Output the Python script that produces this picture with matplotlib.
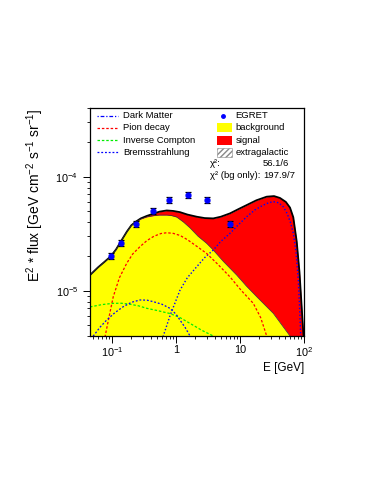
import numpy as np
import matplotlib
matplotlib.use("Agg")
import matplotlib.pyplot as plt
from matplotlib.patches import Rectangle

plt.rcParams['font.family'] = ['Liberation Sans', 'DejaVu Sans']
plt.rcParams['mathtext.fontset'] = 'custom'
plt.rcParams['mathtext.rm'] = 'Liberation Sans'
plt.rcParams['mathtext.it'] = 'Liberation Sans:italic'

# EGRET data points
egret_e = [0.095, 0.136, 0.235, 0.43, 0.78, 1.55, 3.04, 6.9]
egret_f = [2.01e-5, 2.60e-5, 3.86e-5, 5.02e-5, 6.24e-5, 6.93e-5, 6.24e-5, 3.82e-5]
egret_err = [0.06, 0.06, 0.06, 0.06, 0.06, 0.06, 0.06, 0.06]  # relative

# total (background + signal)
tot_e = [0.045, 0.06, 0.075, 0.095, 0.115, 0.136, 0.17, 0.2, 0.235, 0.28, 0.347, 0.45, 0.55,
         0.713, 0.9, 1.15, 1.5, 2.1, 2.8, 3.81, 5.0, 6.96, 9.5, 12.7, 18.0, 26.1, 34.0, 42.1,
         52.0, 60.4, 68.0, 76.9, 85.0, 92.0, 97.0, 100.0]
tot_f = [1.37e-5, 1.6e-5, 1.78e-5, 2.0e-5, 2.3e-5, 2.69e-5, 3.3e-5, 3.75e-5, 4.03e-5, 4.3e-5,
         4.52e-5, 4.75e-5, 4.93e-5, 5.05e-5, 5.0e-5, 4.88e-5, 4.65e-5, 4.45e-5, 4.33e-5, 4.3e-5,
         4.45e-5, 4.76e-5, 5.2e-5, 5.63e-5, 6.2e-5, 6.67e-5, 6.75e-5, 6.5e-5, 6.0e-5, 5.35e-5,
         4.4e-5, 2.7e-5, 1.45e-5, 7.2e-6, 4.5e-6, 3.5e-6]

# background
bg_e = [0.045, 0.06, 0.075, 0.095, 0.115, 0.136, 0.17, 0.2, 0.235, 0.28, 0.347, 0.45, 0.55,
        0.713, 0.85, 1.02, 1.3, 1.65, 2.2, 3.0, 3.81, 5.5, 8.85, 12.5, 18.2, 25.0, 33.1, 45.0,
        60.4, 70.0]
bg_f = [1.37e-5, 1.6e-5, 1.78e-5, 2.0e-5, 2.3e-5, 2.69e-5, 3.3e-5, 3.75e-5, 4.0e-5, 4.25e-5,
        4.43e-5, 4.55e-5, 4.6e-5, 4.6e-5, 4.55e-5, 4.42e-5, 4.0e-5, 3.55e-5, 3.0e-5, 2.6e-5,
        2.27e-5, 1.8e-5, 1.37e-5, 1.1e-5, 8.85e-6, 7.4e-6, 6.32e-6, 5.0e-6, 4.0e-6, 3.4e-6]

# components
dm_e = [0.55, 0.63, 0.8, 1.15, 1.5, 2.1, 2.8, 3.81, 5.0, 6.96, 9.5, 12.7, 17.0, 23.1, 28.0,
        33.1, 40.0, 47.4, 55.0, 62.0, 68.1, 75.0, 81.5, 86.0, 88.7, 92.0]
dm_f = [3.0e-6, 4.0e-6, 6.0e-6, 1.01e-5, 1.3e-5, 1.62e-5, 1.95e-5, 2.27e-5, 2.7e-5, 3.18e-5,
        3.8e-5, 4.45e-5, 5.1e-5, 5.63e-5, 5.9e-5, 6.03e-5, 5.9e-5, 5.44e-5, 4.7e-5, 3.9e-5,
        3.18e-5, 2.2e-5, 1.24e-5, 6.5e-6, 4.0e-6, 2.0e-6]

pi_e = [0.072, 0.077, 0.09, 0.104, 0.13, 0.169, 0.21, 0.272, 0.35, 0.45, 0.58, 0.713, 0.9,
        1.15, 1.5, 2.1, 3.0, 4.5, 6.96, 10.5, 16.1, 21.0, 26.1, 30.0]
pi_f = [3.0e-6, 3.9e-6, 6.0e-6, 8.85e-6, 1.3e-5, 1.74e-5, 2.1e-5, 2.43e-5, 2.75e-5, 3.0e-5,
        3.17e-5, 3.22e-5, 3.18e-5, 3.05e-5, 2.8e-5, 2.45e-5, 2.12e-5, 1.7e-5, 1.32e-5, 1.0e-5,
        7.74e-6, 5.8e-6, 4.0e-6, 3.2e-6]

ic_e = [0.045, 0.07, 0.104, 0.14, 0.19, 0.26, 0.347, 0.5, 0.8, 1.15, 1.65, 2.5, 3.81, 5.0]
ic_f = [7.2e-6, 7.55e-6, 7.74e-6, 7.75e-6, 7.6e-6, 7.35e-6, 7.0e-6, 6.7e-6, 6.3e-6, 5.8e-6,
        5.16e-6, 4.5e-6, 4.0e-6, 3.6e-6]

br_e = [0.045, 0.0507, 0.065, 0.082, 0.11, 0.149, 0.2, 0.272, 0.35, 0.44, 0.6, 0.8, 1.0,
        1.15, 1.4, 1.65, 2.0]
br_f = [3.2e-6, 4.0e-6, 4.8e-6, 5.52e-6, 6.4e-6, 7.23e-6, 7.9e-6, 8.28e-6, 8.25e-6, 8.0e-6,
        7.6e-6, 7.0e-6, 6.2e-6, 5.52e-6, 4.7e-6, 4.0e-6, 3.3e-6]

xmin, xmax = 0.045, 100.0
ymin, ymax = 4e-6, 4e-4

fig = plt.figure(figsize=(3.71, 4.8), dpi=100)
ax = fig.add_axes([0.2426, 0.30, 0.5768, 0.475])

# fills between the read curves
grid = np.logspace(np.log10(xmin), np.log10(xmax), 600)
tot_i = 10 ** np.interp(np.log10(grid), np.log10(tot_e), np.log10(tot_f))
bg_i = 10 ** np.interp(np.log10(grid), np.log10(bg_e), np.log10(bg_f), right=-7.0)
bg_i = np.minimum(bg_i, tot_i)

ax.fill_between(grid, 1e-7, bg_i, color='#ffff00', lw=0)
ax.fill_between(grid, bg_i, tot_i, color='#ff0000', lw=0)
ax.plot(tot_e, tot_f, color='black', lw=1.3, solid_joinstyle='round')
ax.plot(bg_e, bg_f, color='#333333', lw=0.5)

ax.plot(dm_e, dm_f, color='#0000ff', lw=1.0, ls=(0, (1, 1.5)))
ax.plot(pi_e, pi_f, color='#ff0000', lw=0.9, ls=(0, (2, 1.5)))
ax.plot(ic_e, ic_f, color='#00ee00', lw=0.9, ls=(0, (2, 1.5)))
ax.plot(br_e, br_f, color='#0000ff', lw=0.9, ls=(0, (1.5, 1.5)))

egret_f = np.array(egret_f)
yerr = egret_f * np.array(egret_err)
ax.errorbar(egret_e, egret_f, yerr=yerr, fmt='o', color='#0000ff', ms=3.5,
            ecolor='black', elinewidth=0.9, capsize=2, capthick=0.9, zorder=5)

ax.set_xscale('log')
ax.set_yscale('log')
ax.set_xlim(xmin, xmax)
ax.set_ylim(ymin, ymax)

ax.set_xticks([0.1, 1, 10, 100])
ax.set_xticklabels([r'$10^{-1}$', '1', '10', r'$10^{2}$'])
ax.set_yticks([1e-5, 1e-4])
ax.set_yticklabels([r'$10^{-5}$', r'$10^{-4}$'])
ax.tick_params(which='both', direction='out', labelsize=7.8, top=False, right=False)
ax.tick_params(which='major', length=5, width=0.7)
ax.tick_params(which='minor', length=2.5, width=0.6)
ax.tick_params(axis='x', which='major', pad=1.5)
ax.tick_params(axis='x', which='minor', labelbottom=False)
ax.tick_params(axis='y', which='minor', labelleft=False)
for s in ax.spines.values():
    s.set_linewidth(0.9)

ax.set_xlabel('E [GeV]', fontsize=8.5, loc='right', labelpad=2)
ax.set_ylabel(r'E$^{2}$ * flux [GeV cm$^{-2}$ s$^{-1}$ sr$^{-1}$]', fontsize=10, loc='top', labelpad=7)

# legend drawn manually in axes coordinates
fs = 6.8
rows = [0.966, 0.913, 0.859, 0.805]
labels = ['Dark Matter', 'Pion decay', 'Inverse Compton', 'Bremsstrahlung']
cols = ['#0000ff', '#ff0000', '#00ee00', '#0000ff']
styles = [(0, (1, 1.5, 3, 1.5)), (0, (2, 1.5)), (0, (2, 1.5)), (0, (1.5, 1.5))]
for yy, lab, c, st in zip(rows, labels, cols, styles):
    ax.plot([0.035, 0.13], [yy, yy], transform=ax.transAxes, color=c, lw=0.9, ls=st)
    ax.text(0.155, yy, lab, transform=ax.transAxes, fontsize=fs, va='center')

ax.plot([0.62], [rows[0]], 'o', transform=ax.transAxes, color='#0000ff', ms=2.5)
ax.text(0.68, rows[0], 'EGRET', transform=ax.transAxes, fontsize=fs, va='center')
ax.add_patch(Rectangle((0.592, rows[1] - 0.02), 0.07, 0.04, transform=ax.transAxes,
                       facecolor='#ffff00', edgecolor='none'))
ax.text(0.68, rows[1], 'background', transform=ax.transAxes, fontsize=fs, va='center')
ax.add_patch(Rectangle((0.592, rows[2] - 0.02), 0.07, 0.04, transform=ax.transAxes,
                       facecolor='#ff0000', edgecolor='none'))
ax.text(0.68, rows[2], 'signal', transform=ax.transAxes, fontsize=fs, va='center')
ax.add_patch(Rectangle((0.592, rows[3] - 0.02), 0.07, 0.04, transform=ax.transAxes,
                       facecolor='white', edgecolor='#888888', hatch='//////', lw=0.4))
ax.text(0.68, rows[3], 'extragalactic', transform=ax.transAxes, fontsize=fs, va='center')

ax.text(0.56, 0.757, 'χ²:', transform=ax.transAxes, fontsize=fs, va='center')
ax.text(0.93, 0.757, '56.1/6', transform=ax.transAxes, fontsize=fs, va='center', ha='right')
ax.text(0.56, 0.706, 'χ² (bg only):', transform=ax.transAxes, fontsize=fs, va='center')
ax.text(0.96, 0.706, '197.9/7', transform=ax.transAxes, fontsize=fs, va='center', ha='right')

fig.savefig('out.png', dpi=100)
